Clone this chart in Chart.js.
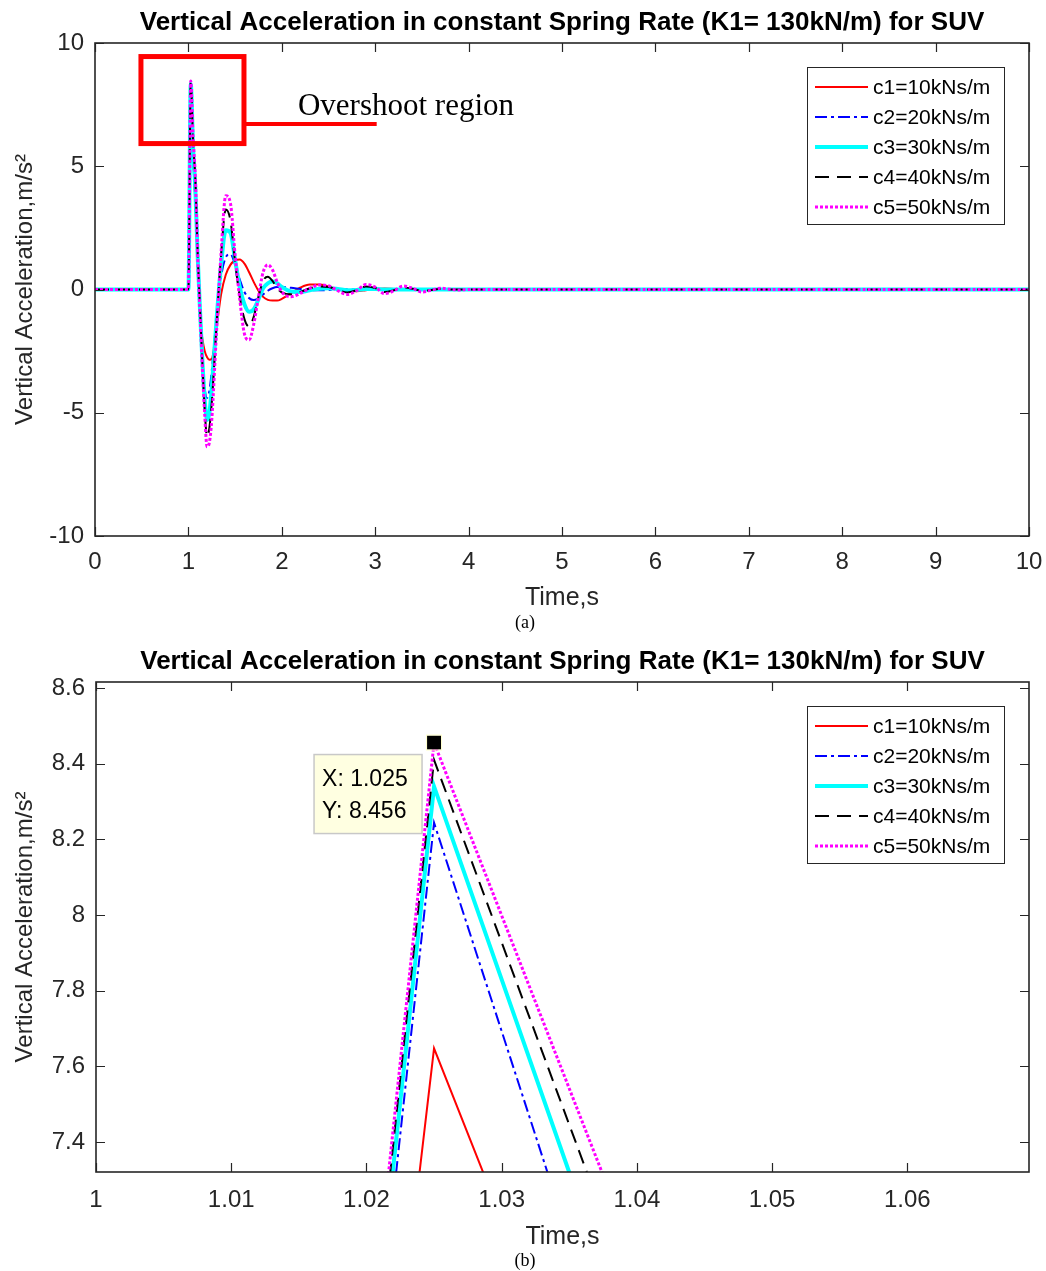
<!DOCTYPE html>
<html><head><meta charset="utf-8">
<script src="https://cdn.jsdelivr.net/npm/chart.js@4.4.0/dist/chart.umd.min.js"></script>
<style>
html,body{margin:0;padding:0;background:#fff;width:1046px;height:1271px;overflow:hidden}
#wa{position:absolute;left:0;top:0;width:1046px;height:640px}
#wb{position:absolute;left:0;top:640px;width:1046px;height:631px}
canvas{display:block}
</style></head><body>
<div id="wa"><canvas id="ca" width="1046" height="640"></canvas></div>
<div id="wb"><canvas id="cb" width="1046" height="631"></canvas></div>
<script>
// ---------------- DATA ----------------
const chartTitle = 'Vertical Acceleration in constant Spring Rate (K1= 130kN/m) for SUV';
const xAxisTitle = 'Time,s';
const yAxisTitle = 'Vertical Acceleration,m/s²';
const subCaptions = ['(a)', '(b)'];
const annotationText = 'Overshoot region';
const seriesNames = ['c1=10kNs/m', 'c2=20kNs/m', 'c3=30kNs/m', 'c4=40kNs/m', 'c5=50kNs/m'];

const time = [0, 1, 1.025, 1.05, 1.075, 1.1, 1.125, 1.15, 1.175, 1.2, 1.225, 1.25,
  1.3, 1.35, 1.4, 1.45, 1.5, 1.55, 1.6, 1.65, 1.7, 1.75, 1.8, 1.85, 1.9, 1.95, 2,
  2.1, 2.2, 2.3, 2.4, 2.5, 2.6, 2.7, 2.8, 2.9, 3, 3.1, 3.2, 3.3, 3.4, 3.5, 3.6, 3.7, 3.8, 3.9, 4,
  5, 6, 7, 8, 9, 10];
const c1 = [0, 0, 7.648, 5.39, 3.5, 1.3, -1.2, -2.0, -2.5, -2.75, -2.85, -2.82,
  -1.6, -0.2, 0.6, 1.0, 1.18, 1.22, 1.05, 0.7, 0.3, -0.05, -0.3, -0.42, -0.45, -0.45, -0.38,
  -0.15, 0.08, 0.2, 0.2, 0.12, 0.0, -0.07, -0.07, -0.03, 0.02, 0.04, 0.02, 0, -0.01, 0, 0, 0, 0, 0, 0,
  0, 0, 0, 0, 0, 0];
const c2 = [0, 0, 8.244, 5.49, 3.6, 1.0, -1.0, -2.8, -4.0, -4.4, -4.1, -3.3,
  -1.2, 0.5, 1.3, 1.44, 1.0, 0.4, -0.1, -0.35, -0.43, -0.35, -0.2, -0.05, 0.05, 0.1, 0.1,
  0.07, 0.02, -0.02, -0.03, -0.02, 0, 0.01, 0, 0, 0, 0, 0, 0, 0, 0, 0, 0, 0, 0, 0,
  0, 0, 0, 0, 0, 0];
const c3 = [0, 0, 8.34, 5.79, 4.0, 1.3, -0.9, -2.9, -4.5, -5.29, -5.0, -4.0,
  -1.3, 1.0, 2.4, 2.3, 1.2, 0.1, -0.6, -0.9, -0.8, -0.4, 0.05, 0.25, 0.32, 0.25, 0.1,
  -0.08, -0.1, -0.03, 0.03, 0.05, 0.02, -0.03, -0.02, 0.02, 0.02, 0, 0, 0, 0, 0, 0, 0, 0, 0, 0,
  0, 0, 0, 0, 0, 0];
const c4 = [0, 0, 8.41, 6.0, 4.4, 1.4, -0.8, -3.0, -4.9, -5.97, -5.6, -4.6,
  -1.5, 1.4, 3.25, 2.8, 1.1, -0.3, -1.2, -1.5, -1.1, -0.3, 0.35, 0.52, 0.35, 0.05, -0.12,
  -0.2, -0.1, 0.05, 0.12, 0.1, -0.02, -0.12, -0.03, 0.12, 0.06, -0.1, -0.03, 0.08, 0.03, -0.05, -0.02, 0.03, 0, 0, 0,
  0, 0, 0, 0, 0, 0];
const c5 = [0, 0, 8.456, 6.17, 4.5, 1.3, -1.0, -3.2, -5.1, -6.38, -6.2, -5.3,
  -1.8, 1.5, 3.8, 3.5, 1.4, -0.4, -1.8, -2.05, -1.4, -0.3, 0.7, 1.0, 0.8, 0.3, -0.1,
  -0.29, -0.15, 0.05, 0.18, 0.15, -0.05, -0.2, -0.05, 0.2, 0.1, -0.17, -0.05, 0.14, 0.05, -0.1, -0.03, 0.05, 0.01, -0.02, 0,
  0, 0, 0, 0, 0, 0];
const seriesValues = [c1, c2, c3, c4, c5];

const xTicksA = [0, 1, 2, 3, 4, 5, 6, 7, 8, 9, 10];
const yTicksA = [-10, -5, 0, 5, 10];
const xRangeA = [0, 10];
const yRangeA = [-10, 10];
const xTicksB = [1, 1.01, 1.02, 1.03, 1.04, 1.05, 1.06];
const yTicksB = [7.4, 7.6, 7.8, 8, 8.2, 8.4, 8.6];
const xRangeB = [1, 1.069];
const yRangeB = [7.321, 8.616];

// annotation (data coordinates of top chart): box [x0,x1,y0,y1], leader line end, label anchor
const overshootBox = [0.492, 1.595, 5.92, 9.45];
const overshootLeader = [3.016, 6.71];
const overshootLabelAt = [2.173, 7.08];
// data tip shown in zoomed chart: index into the time array and series index
const dataTipIndex = 2;
const dataTipSeries = 4;

// ---------------- STYLES ----------------
const colors = ['#ff0000', '#0000ff', '#00ffff', '#000000', '#ff00ff'];
const widths = [2, 2, 4, 2, 3];
const dashes = [[], [12, 4, 3, 4], [], [14, 8], [3, 2]];
const SANS = '"Liberation Sans", Arial, Helvetica, sans-serif';
const SERIF = '"Liberation Serif", "Times New Roman", serif';
const AX = '#262626';

function makeDatasets(smooth) {
  return seriesNames.map((name, i) => ({
    label: name,
    data: time.map((t, k) => ({x: t, y: seriesValues[i][k]})),
    borderColor: colors[i],
    backgroundColor: colors[i],
    borderWidth: widths[i],
    borderDash: dashes[i],
    borderCapStyle: 'butt',
    borderJoinStyle: smooth ? 'round' : 'miter',
    pointRadius: 0,
    pointHoverRadius: 0,
    fill: false,
    tension: 0,
    cubicInterpolationMode: smooth ? 'monotone' : 'default',
    order: 5 - i
  }));
}

function fmt(v) { return String(+(+v).toFixed(3)); }

function drawFrame(chart) {
  const {ctx, chartArea: a, scales: {x, y}} = chart;
  ctx.save();
  ctx.strokeStyle = AX;
  ctx.lineWidth = 1.2;
  ctx.setLineDash([]);
  ctx.beginPath();
  x.ticks.forEach(t => {
    const p = Math.round(x.getPixelForValue(t.value)) + 0.5;
    ctx.moveTo(p, a.bottom); ctx.lineTo(p, a.bottom - 9);
    ctx.moveTo(p, a.top); ctx.lineTo(p, a.top + 9);
  });
  y.ticks.forEach(t => {
    const p = Math.round(y.getPixelForValue(t.value)) + 0.5;
    ctx.moveTo(a.left, p); ctx.lineTo(a.left + 9, p);
    ctx.moveTo(a.right, p); ctx.lineTo(a.right - 9, p);
  });
  ctx.stroke();
  ctx.lineWidth = 1.6;
  ctx.strokeRect(a.left, a.top, a.right - a.left, a.bottom - a.top);
  ctx.restore();
}

function drawLegend(chart) {
  const {ctx, chartArea: a} = chart;
  const W = 197, H = 157;
  const L = a.right - 25 - W, T = a.top + 24;
  ctx.save();
  ctx.fillStyle = '#ffffff';
  ctx.fillRect(L, T, W, H);
  ctx.strokeStyle = AX; ctx.lineWidth = 1; ctx.setLineDash([]);
  ctx.strokeRect(L + 0.5, T + 0.5, W, H);
  chart.data.datasets.forEach((d, i) => {
    const yy = T + 20 + i * 30;
    ctx.beginPath();
    ctx.setLineDash(d.borderDash);
    ctx.lineCap = 'butt';
    ctx.strokeStyle = d.borderColor;
    ctx.lineWidth = d.borderWidth;
    ctx.moveTo(L + 8, yy); ctx.lineTo(L + 61, yy);
    ctx.stroke();
    ctx.setLineDash([]);
    ctx.fillStyle = '#000';
    ctx.font = '21px ' + SANS;
    ctx.textBaseline = 'middle';
    ctx.textAlign = 'left';
    ctx.fillText(d.label, L + 66, yy + 1);
  });
  ctx.restore();
}

function drawCaption(chart, text, cy) {
  const {ctx} = chart;
  ctx.save();
  ctx.fillStyle = '#000';
  ctx.font = '18px ' + SERIF;
  ctx.textAlign = 'center';
  ctx.textBaseline = 'middle';
  ctx.fillText(text, 525, cy);
  ctx.restore();
}

const decoA = {
  id: 'decoA',
  afterDatasetsDraw(chart) {
    const {ctx, scales: {x, y}} = chart;
    drawFrame(chart);
    drawLegend(chart);
    // overshoot annotation
    ctx.save();
    ctx.strokeStyle = '#ff0000';
    ctx.setLineDash([]);
    ctx.lineWidth = 5;
    const bx0 = x.getPixelForValue(overshootBox[0]), bx1 = x.getPixelForValue(overshootBox[1]);
    const by0 = y.getPixelForValue(overshootBox[2]), by1 = y.getPixelForValue(overshootBox[3]);
    ctx.strokeRect(bx0, by1, bx1 - bx0, by0 - by1);
    ctx.lineWidth = 4;
    ctx.beginPath();
    const ly = y.getPixelForValue(overshootLeader[1]);
    ctx.moveTo(bx1, ly); ctx.lineTo(x.getPixelForValue(overshootLeader[0]), ly);
    ctx.stroke();
    ctx.fillStyle = '#000';
    ctx.font = '31px ' + SERIF;
    ctx.textAlign = 'left';
    ctx.textBaseline = 'alphabetic';
    ctx.fillText(annotationText, x.getPixelForValue(overshootLabelAt[0]), y.getPixelForValue(overshootLabelAt[1]));
    ctx.restore();
    drawCaption(chart, subCaptions[0], 623);
  }
};

const decoB = {
  id: 'decoB',
  afterDatasetsDraw(chart) {
    const {ctx, scales: {x, y}} = chart;
    drawFrame(chart);
    drawLegend(chart);
    // data tip
    const tx = time[dataTipIndex], ty = seriesValues[dataTipSeries][dataTipIndex];
    const sx = x.getPixelForValue(tx), sy = y.getPixelForValue(ty);
    ctx.save();
    ctx.setLineDash([]);
    const bl = sx - 120, bt = sy + 12, bw = 108, bh = 79;
    ctx.fillStyle = '#ffffe1';
    ctx.fillRect(bl, bt, bw, bh);
    ctx.strokeStyle = '#c8c8c8'; ctx.lineWidth = 1.5;
    ctx.strokeRect(bl, bt, bw, bh);
    ctx.fillStyle = '#000';
    ctx.font = '23px ' + SANS;
    ctx.textAlign = 'left';
    ctx.textBaseline = 'middle';
    ctx.fillText('X: ' + tx.toFixed(3), bl + 8, bt + 25);
    ctx.fillText('Y: ' + ty.toFixed(3), bl + 8, bt + 57);
    ctx.fillStyle = '#000';
    ctx.fillRect(sx - 7, sy - 7, 14, 14);
    ctx.strokeStyle = '#ffffcc'; ctx.lineWidth = 1;
    ctx.strokeRect(sx - 7.5, sy - 7.5, 15, 15);
    ctx.restore();
    drawCaption(chart, subCaptions[1], 621);
  }
};

function makeChart(canvasId, smooth, xr, yr, xt, yt, geom, plugin) {
  return new Chart(document.getElementById(canvasId), {
    type: 'line',
    data: {datasets: makeDatasets(smooth)},
    plugins: [plugin],
    options: {
      responsive: false,
      animation: false,
      devicePixelRatio: 1,
      events: [],
      layout: {padding: {left: 0, right: 17, top: 0, bottom: 0}},
      plugins: {
        legend: {display: false},
        tooltip: {enabled: false},
        title: {
          display: true,
          fullSize: false,
          text: chartTitle,
          color: '#000',
          font: {family: SANS, size: 26, weight: 'bold'},
          padding: {top: geom.titleTop, bottom: geom.titleBottom}
        }
      },
      scales: {
        x: {
          type: 'linear',
          min: xr[0], max: xr[1],
          grid: {display: false, drawTicks: false},
          border: {display: false},
          afterBuildTicks: s => { s.ticks = xt.map(v => ({value: v})); },
          afterFit: s => { s.height = geom.xh; s.paddingLeft = 0; s.paddingRight = 0; },
          ticks: {
            color: AX, padding: geom.xtp, maxRotation: 0, autoSkip: false,
            font: {family: SANS, size: 24},
            callback: v => fmt(v)
          },
          title: {
            display: true, text: xAxisTitle, color: AX,
            font: {family: SANS, size: 25},
            padding: {top: 0, bottom: geom.xtb}
          }
        },
        y: {
          type: 'linear',
          min: yr[0], max: yr[1],
          grid: {display: false, drawTicks: false},
          border: {display: false},
          afterBuildTicks: s => { s.ticks = yt.map(v => ({value: v})); },
          afterFit: s => { s.width = geom.yw; s.paddingTop = 0; s.paddingBottom = 0; },
          ticks: {
            color: AX, padding: 11, autoSkip: false,
            font: {family: SANS, size: 24},
            callback: v => fmt(v)
          },
          title: {
            display: true, text: yAxisTitle, color: AX,
            font: {family: SANS, size: 24},
            padding: {top: 11, bottom: 0}
          }
        }
      }
    }
  });
}

makeChart('ca', true, xRangeA, yRangeA, xTicksA, yTicksA,
  {titleTop: 7, titleBottom: 4.8, xh: 104, xtp: 11.6, xtb: 27, yw: 95}, decoA);
makeChart('cb', false, xRangeB, yRangeB, xTicksB, yTicksB,
  {titleTop: 6.5, titleBottom: 4.3, xh: 99, xtp: 13.6, xtb: 19, yw: 96}, decoB);
</script>
</body></html>
